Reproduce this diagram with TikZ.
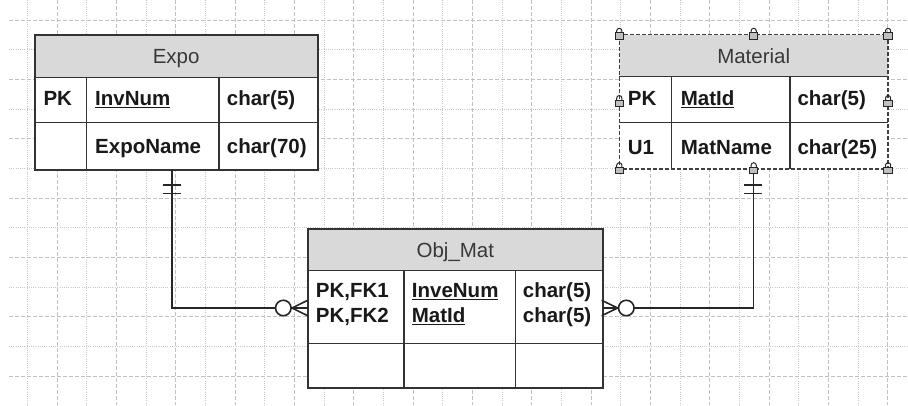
\documentclass[tikz,border=0pt]{standalone}
\usepackage{fontspec}
\setmainfont{Liberation Sans}
\begin{document}
\begin{tikzpicture}[x=1pt,y=-1pt,
  gmaj/.style={draw=black!24, line width=0.9pt, dash pattern=on 4pt off 2pt},
  gmin/.style={draw=black!22, line width=0.9pt, dash pattern=on 1pt off 1.2pt},
  tbl/.style={draw=black!80, line width=1.3pt, fill=white, inner sep=0, anchor=north west},
  tblnb/.style={draw=none, fill=white, inner sep=0, anchor=north west},
  hdrbox/.style={draw=black!80, line width=1.3pt, fill=black!15, inner sep=0, anchor=north west},
  hdrnb/.style={draw=none, fill=black!15, inner sep=0, anchor=north west},
  sep/.style={draw=black!80, line width=1.2pt},
  seldash/.style={draw=black!75, line width=1.3pt, dash pattern=on 4pt off 2pt},
  htext/.style={font=\fontsize{20.5}{24}\selectfont, text=black!78, inner sep=0, text height=14.7pt, text depth=0pt},
  ftext/.style={font=\fontsize{20.5}{24}\selectfont\bfseries, text=black!90, inner sep=0, anchor=west, text height=14.7pt, text depth=0pt},
  conn/.style={draw=black!85, line width=1.6pt},
  ring/.style={draw=black!85, line width=1.6pt, circle, fill=white, inner sep=0, minimum size=15.5pt},
  lockh/.pic={
    \draw[black!85, line width=1pt] (-2.6,-1.5) -- (-2.6,-3.8) arc[start angle=180, end angle=360, radius=2.6] -- (2.6,-1.5);
    \filldraw[fill=black!25, draw=black!85, line width=1pt] (-4.2,-1.8) rectangle (4.2,4.4);
  }
]
\useasboundingbox (0,0) rectangle (908,405);
\fill[white] (0,0) rectangle (908,405);
% grid
\foreach \k in {0,2,...,28} \draw[gmin] ({27.3+29.67*\k},0) -- ++(0,405);
\foreach \k in {1,3,...,29} \draw[gmaj] ({27.3+29.67*\k},0) -- ++(0,405);
\foreach \k in {1,3,...,11} \draw[gmin] (9,{20+29.67*\k}) -- (908,{20+29.67*\k});
\foreach \k in {0,2,...,12} \draw[gmaj] (9,{20+29.67*\k}) -- (908,{20+29.67*\k});

% ---------- Expo ----------
\node[tbl, minimum width=282.4pt, minimum height=134.4pt] (expo) at (34.3,34.3) {};
\node[hdrbox, minimum width=282.4pt, minimum height=42.4pt] (expoH) at (34.3,34.3) {};
\node[htext] (expoT) at (expoH.center) {Expo};
\draw[sep] (34.3,122.7) -- (316.7,122.7);
\draw[sep] (86.7,76.7) -- (86.7,168.7);
\draw[sep] (219,76.7) -- (219,168.7);
\draw[draw=black!80, line width=1.3pt] (expo.north west) rectangle (expo.south east);
\node[ftext] (e11) at (43.3,97.8) {PK};
\node[ftext] (e12) at (95,97.8) {\underline{InvNum}};
\node[ftext] (e13) at (226.7,97.8) {char(5)};
\node[ftext] (e22) at (95,146.5) {ExpoName};
\node[ftext] (e23) at (226.7,146.5) {char(70)};

% ---------- Material ----------
\node[tblnb, minimum width=268.4pt, minimum height=134pt] (mat) at (619.3,34.7) {};
\node[hdrnb, minimum width=268.4pt, minimum height=42pt] (matH) at (619.3,34.7) {};
\node[htext] (matT) at (matH.center) {Material};
\draw[sep] (619.3,76.7) -- (887.7,76.7);
\draw[sep] (619.3,122.7) -- (887.7,122.7);
\draw[sep] (671.7,76.7) -- (671.7,168.7);
\draw[sep] (790,76.7) -- (790,168.7);
\draw[seldash] (mat.north west) rectangle (mat.south east);
\node[ftext] (m11) at (627.7,98.3) {PK};
\node[ftext] (m12) at (680.7,98.3) {\underline{MatId}};
\node[ftext] (m13) at (797.3,98.3) {char(5)};
\node[ftext] (m21) at (627.7,146.7) {U1};
\node[ftext] (m22) at (680.7,146.7) {MatName};
\node[ftext] (m23) at (797.3,146.7) {char(25)};

% ---------- Obj_Mat ----------
\node[tbl, minimum width=294pt, minimum height=159pt] (objmat) at (307.7,228.3) {};
\node[hdrbox, minimum width=294pt, minimum height=41.7pt] (objH) at (307.7,228.3) {};
\node[htext] (objT) at (objH.center) {Obj\_Mat};
\draw[sep] (307.7,343.3) -- (601.7,343.3);
\draw[sep] (404,270) -- (404,387.3);
\draw[sep] (515.7,270) -- (515.7,387.3);
\draw[draw=black!80, line width=1.3pt] (objmat.north west) rectangle (objmat.south east);
\node[ftext] (o11) at (315.7,290.5) {PK,FK1};
\node[ftext] (o21) at (315.7,315.5) {PK,FK2};
\node[ftext] (o12) at (411.7,290.5) {\underline{InveNum}};
\node[ftext] (o22) at (411.7,315.5) {\underline{MatId}};
\node[ftext] (o13) at (522.7,290.5) {char(5)};
\node[ftext] (o23) at (522.7,315.5) {char(5)};

% ---------- connectors ----------
\coordinate (lx) at (171.7,0);
\coordinate (rx) at (753.3,0);
\coordinate (cy) at (0,308);
\draw[conn] (lx |- expo.south) |- (objmat.west |- cy);
\draw[conn] (rx |- mat.south) |- (objmat.east |- cy);
% one-and-only-one ticks
\draw[conn] (162.7,185) -- (180.7,185) (162.7,193.5) -- (180.7,193.5);
\draw[conn] (744.3,185) -- (762.3,185) (744.3,193.5) -- (762.3,193.5);
% zero-or-many ends
\node[ring] (c1) at (283.3,308) {};
\draw[conn] (292,308) -- (307.7,300.3) (292,308) -- (307.7,315.7);
\node[ring] (c2) at (626.3,308) {};
\draw[conn] (617.6,308) -- (601.7,300.3) (617.6,308) -- (601.7,315.7);

% selection handles on Material
\foreach \p in {(mat.north west),(mat.north),(mat.north east),(mat.west),(mat.east),(mat.south west),(mat.south),(mat.south east)}
  \pic at \p {lockh};
\end{tikzpicture}
\end{document}
